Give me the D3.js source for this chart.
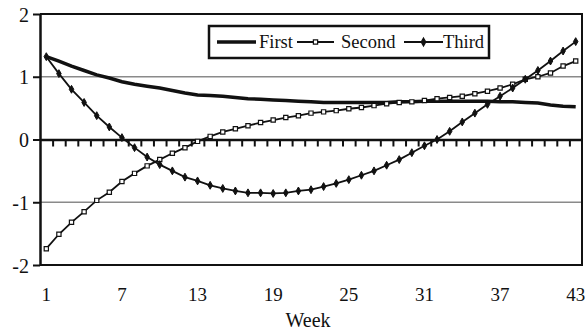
<!DOCTYPE html>
<html>
<head>
<meta charset="utf-8">
<script src="https://cdn.jsdelivr.net/npm/d3@7"></script>
<style>
  body { margin: 0; background: #fff; }
  svg { display: block; font-family: "Liberation Serif", "Times New Roman", serif; }
</style>
</head>
<body>
<script>
'use strict';

// weeks 1..43
const weeks = d3.range(1, 44);
const seriesNames = ["First", "Second", "Third"];
const xTickLabels = [1, 7, 13, 19, 25, 31, 37, 43];
const yTickLabels = [-2, -1, 0, 1, 2];

const first = [1.32, 1.25, 1.17, 1.10, 1.03, 0.98, 0.92, 0.88, 0.85, 0.82,
  0.78, 0.74, 0.71, 0.70, 0.69, 0.67, 0.65, 0.64, 0.63, 0.62,
  0.61, 0.60, 0.59, 0.59, 0.59, 0.59, 0.59, 0.59, 0.60, 0.60,
  0.61, 0.61, 0.61, 0.61, 0.61, 0.61, 0.60, 0.60, 0.59, 0.58,
  0.55, 0.53, 0.52];
const second = [-1.74, -1.51, -1.32, -1.15, -0.97, -0.84, -0.67, -0.54, -0.42, -0.32,
  -0.22, -0.13, -0.03, 0.05, 0.12, 0.17, 0.22, 0.27, 0.31, 0.35,
  0.38, 0.42, 0.44, 0.46, 0.49, 0.51, 0.54, 0.57, 0.59, 0.60,
  0.62, 0.65, 0.67, 0.69, 0.73, 0.77, 0.82, 0.88, 0.96, 1.00,
  1.06, 1.17, 1.25];
const third = [1.32, 1.05, 0.80, 0.59, 0.38, 0.20, 0.03, -0.13, -0.28, -0.40,
  -0.50, -0.60, -0.66, -0.73, -0.78, -0.82, -0.85, -0.85, -0.86, -0.85,
  -0.82, -0.80, -0.75, -0.70, -0.64, -0.57, -0.50, -0.41, -0.32, -0.21,
  -0.10, 0.00, 0.13, 0.28, 0.42, 0.56, 0.69, 0.82, 0.96, 1.10,
  1.25, 1.41, 1.56];

(function () {
  const W = 585, H = 334;
  const mLeft = 40, mRight = 582, mTop = 14, mBottom = 265;

  const svg = d3.select('body').append('svg')
    .attr('width', W)
    .attr('height', H);

  // category scale (points sit in the middle of each band)
  const xBand = d3.scaleBand().domain(weeks).range([mLeft, mRight]).padding(0);
  const xMid = d => xBand(d) + xBand.bandwidth() / 2;
  // edge scale for tick marks between categories
  const xEdge = d3.scaleLinear().domain([0, weeks.length]).range([mLeft, mRight]);
  const y = d3.scaleLinear().domain([-2, 2]).range([mBottom, mTop]);

  // gridlines
  svg.append('g')
    .selectAll('line')
    .data([-1, 1])
    .enter().append('line')
    .attr('x1', mLeft).attr('x2', mRight)
    .attr('y1', d => y(d)).attr('y2', d => y(d))
    .attr('stroke', '#8a8a8a')
    .attr('stroke-width', 1.5);

  // plot border top / right / bottom
  svg.append('path')
    .attr('d', `M${mLeft},${y(2)}H${mRight}V${y(-2)}H${mLeft}`)
    .attr('fill', 'none')
    .attr('stroke', '#111')
    .attr('stroke-width', 2);

  // y axis
  const yAxis = d3.axisLeft(y).tickValues(yTickLabels).tickSize(7).tickSizeOuter(0).tickFormat(d => String(d));
  const gy = svg.append('g')
    .attr('transform', `translate(${mLeft},0)`)
    .call(yAxis);
  gy.select('.domain').attr('stroke', '#111').attr('stroke-width', 2.5);
  gy.selectAll('.tick line').attr('stroke', '#111').attr('stroke-width', 2);
  gy.selectAll('.tick text')
    .attr('x', -11)
    .attr('dy', '0.35em')
    .style('font-family', '"Liberation Serif", serif')
    .style('font-size', '20px')
    .attr('fill', '#111');

  // zero axis with tick marks between categories
  const zeroAxis = d3.axisBottom(xEdge).tickValues(d3.range(1, weeks.length)).tickSize(7).tickSizeOuter(0).tickFormat('');
  const gz = svg.append('g')
    .attr('transform', `translate(0,${y(0)})`)
    .call(zeroAxis);
  gz.select('.domain').attr('stroke', '#111').attr('stroke-width', 2.5);
  gz.selectAll('.tick line').attr('stroke', '#111').attr('stroke-width', 2);

  // category labels along the bottom
  const xAxis = d3.axisBottom(xBand).tickValues(xTickLabels).tickSize(0).tickPadding(23);
  const gx = svg.append('g')
    .attr('transform', `translate(0,${y(-2)})`)
    .call(xAxis);
  gx.select('.domain').remove();
  gx.selectAll('.tick text')
    .style('font-family', '"Liberation Serif", serif')
    .style('font-size', '19px')
    .attr('fill', '#111');

  svg.append('text')
    .attr('x', 308)
    .attr('y', 327)
    .attr('text-anchor', 'middle')
    .style('font-size', '20px')
    .attr('fill', '#111')
    .text('Week');

  // lines
  const line = d3.line()
    .x((d, i) => xMid(weeks[i]))
    .y(d => y(d));

  svg.append('path')
    .datum(first)
    .attr('d', line)
    .attr('fill', 'none')
    .attr('stroke', '#111')
    .attr('stroke-width', 3.5);

  svg.append('path')
    .datum(second)
    .attr('d', line)
    .attr('fill', 'none')
    .attr('stroke', '#111')
    .attr('stroke-width', 1.8);

  svg.append('path')
    .datum(third)
    .attr('d', line)
    .attr('fill', 'none')
    .attr('stroke', '#111')
    .attr('stroke-width', 1.8);

  // markers
  const square = d3.symbol().type(d3.symbolSquare).size(18);
  const diamond = d3.symbol().type(d3.symbolDiamond).size(18);

  svg.append('g')
    .selectAll('path')
    .data(second)
    .enter().append('path')
    .attr('d', square)
    .attr('transform', (d, i) => `translate(${xMid(weeks[i])},${y(d)})`)
    .attr('fill', '#fff')
    .attr('stroke', '#111')
    .attr('stroke-width', 1.2);

  svg.append('g')
    .selectAll('path')
    .data(third)
    .enter().append('path')
    .attr('d', diamond)
    .attr('transform', (d, i) => `translate(${xMid(weeks[i])},${y(d)})`)
    .attr('fill', '#111')
    .attr('stroke', '#111')
    .attr('stroke-width', 1);

  // legend
  const lg = svg.append('g');
  lg.append('rect')
    .attr('x', 209).attr('y', 26)
    .attr('width', 280).attr('height', 32)
    .attr('fill', '#fff')
    .attr('stroke', '#111')
    .attr('stroke-width', 2.5);

  const legendY = 42;
  const legendItems = [
    { name: seriesNames[0], x1: 217, x2: 256, tx: 259, marker: null, w: 3.5 },
    { name: seriesNames[1], x1: 297, x2: 334, tx: 341, marker: square, w: 1.8 },
    { name: seriesNames[2], x1: 404, x2: 443, tx: 443, marker: diamond, w: 1.8 }
  ];
  legendItems.forEach(it => {
    lg.append('line')
      .attr('x1', it.x1).attr('x2', it.x2)
      .attr('y1', legendY).attr('y2', legendY)
      .attr('stroke', '#111')
      .attr('stroke-width', it.w);
    if (it.marker) {
      lg.append('path')
        .attr('d', it.marker)
        .attr('transform', `translate(${(it.x1 + it.x2) / 2},${legendY})`)
        .attr('fill', it.marker === square ? '#fff' : '#111')
        .attr('stroke', '#111')
        .attr('stroke-width', 1.2);
    }
    lg.append('text')
      .attr('x', it.tx)
      .attr('y', legendY + 6)
      .style('font-size', '18.5px')
      .attr('fill', '#111')
      .text(it.name);
  });
})();
</script>
</body>
</html>
